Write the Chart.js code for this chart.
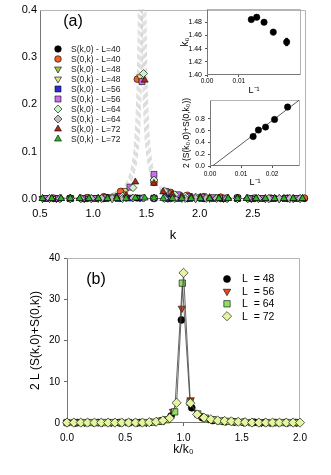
<!DOCTYPE html>
<html>
<head>
<meta charset="utf-8">
<script src="https://cdn.jsdelivr.net/npm/chart.js@4.4.0/dist/chart.umd.min.js"></script>
<style>
body { margin: 0; background: #fff; }
#wrap { position: relative; width: 331px; height: 475px; overflow: hidden; }
canvas { position: absolute; }
</style>
</head>
<body>
<div id="wrap">
  <canvas id="cA" width="331" height="245" style="left:0px;top:0px"></canvas>
  <canvas id="cTop" width="130" height="100" style="left:178px;top:0px"></canvas>
  <canvas id="cBot" width="130" height="100" style="left:180px;top:92px"></canvas>
  <canvas id="cB" width="331" height="235" style="left:0px;top:240px"></canvas>
</div>
<script>
// ---- panel (a): structure factor vs k, lattice k = 2*pi*n/L ----
var namesA = ['S(k,0) - L=40', 'S(0,k) - L=40', 'S(k,0) - L=48', 'S(0,k) - L=48', 'S(k,0) - L=56',
              'S(0,k) - L=56', 'S(k,0) - L=64', 'S(0,k) - L=64', 'S(k,0) - L=72', 'S(0,k) - L=72'];

var kL40 = [0.628,0.785,0.942,1.100,1.257,1.414,1.571,1.728,1.885,2.042,2.199,2.356,2.513,2.670,2.827,2.985];
var kL48 = [0.524,0.654,0.785,0.916,1.047,1.178,1.309,1.440,1.571,1.702,1.833,1.963,2.094,2.225,2.356,2.487,2.618,2.749,2.880];
var kL56 = [0.561,0.673,0.785,0.898,1.010,1.122,1.234,1.346,1.459,1.571,1.683,1.795,1.907,2.020,2.132,2.244,2.356,2.468,2.581,2.693,2.805,2.917];
var kL64 = [0.589,0.687,0.785,0.884,0.982,1.080,1.178,1.276,1.374,1.473,1.571,1.669,1.767,1.865,1.963,2.062,2.160,2.258,2.356,2.454,2.553,2.651,2.749,2.847,2.945];
var kL72 = [0.524,0.611,0.698,0.785,0.873,0.960,1.047,1.134,1.222,1.309,1.396,1.484,1.571,1.658,1.745,1.833,1.920,2.007,2.094,2.182,2.269,2.356,2.443,2.531,2.618,2.705,2.793,2.880,2.967];

var sk0_40 = [0.001,0.001,0.001,0.001,0.002,0.002,0.001,0.001,0.001,0.001,0.001,0.001,0.001,0.001,0.001,0.001];
var s0k_40 = [0.002,0.002,0.003,0.005,0.016,0.253,0.035,0.014,0.008,0.005,0.004,0.003,0.002,0.002,0.002,0.002];
var sk0_48 = [0.001,0.001,0.001,0.001,0.001,0.001,0.002,0.002,0.002,0.001,0.001,0.001,0.001,0.001,0.001,0.001,0.001,0.001,0.001];
var s0k_48 = [0.001,0.001,0.001,0.001,0.002,0.005,0.018,0.258,0.038,0.013,0.006,0.004,0.003,0.002,0.002,0.001,0.001,0.001,0.001];
var sk0_56 = [0.001,0.001,0.001,0.001,0.001,0.001,0.001,0.002,0.002,0.002,0.001,0.001,0.001,0.001,0.001,0.001,0.001,0.001,0.001,0.001,0.001,0.001];
var s0k_56 = [0.001,0.001,0.001,0.001,0.001,0.003,0.005,0.025,0.248,0.052,0.016,0.009,0.005,0.004,0.003,0.002,0.002,0.001,0.001,0.001,0.001,0.001];
var sk0_64 = [0.001,0.001,0.001,0.001,0.001,0.0015,0.003,0.006,0.024,0.265,0.040,0.017,0.009,0.006,0.004,0.003,0.002,0.0015,0.001,0.001,0.001,0.001,0.001,0.001,0.001];
var s0k_64 = [0.001,0.001,0.001,0.001,0.001,0.001,0.001,0.001,0.002,0.002,0.002,0.001,0.001,0.001,0.001,0.001,0.001,0.001,0.001,0.001,0.001,0.001,0.001,0.001,0.001];
var sk0_72 = [0.001,0.001,0.001,0.001,0.001,0.001,0.0015,0.002,0.004,0.008,0.036,0.251,0.033,0.015,0.009,0.006,0.004,0.0035,0.003,0.002,0.0015,0.001,0.001,0.001,0.001,0.001,0.001,0.001,0.001];
var s0k_72 = [0.001,0.001,0.001,0.001,0.001,0.001,0.001,0.001,0.001,0.001,0.002,0.002,0.002,0.001,0.001,0.001,0.001,0.001,0.001,0.001,0.001,0.001,0.001,0.001,0.001,0.001,0.001,0.001,0.001];

// dashed fit curves (peaks run off the top)
var kFit = [0.5,0.8,1.0,1.1,1.2,1.3,1.34,1.37,1.39,1.41,1.42,1.43,1.44,1.45,1.46,1.47,1.48,1.49,1.50,1.52,1.54,1.57,1.61,1.66,1.73,1.83,2.0,2.3,2.7,3.0];
var fit1 = [0.0011,0.0026,0.0052,0.0084,0.014,0.032,0.05,0.08,0.12,0.22,0.32,0.55,0.9,0.55,0.32,0.22,0.16,0.12,0.10,0.068,0.05,0.035,0.024,0.016,0.0105,0.0063,0.0034,0.0014,0.0007,0.0004];
var fit2 = [0.0011,0.0025,0.005,0.008,0.013,0.028,0.045,0.068,0.10,0.16,0.22,0.32,0.55,0.9,0.55,0.32,0.22,0.16,0.12,0.08,0.058,0.04,0.026,0.017,0.011,0.0065,0.0035,0.0014,0.0007,0.0005];
var fit3 = [0.001,0.0024,0.0048,0.0078,0.0125,0.026,0.04,0.058,0.08,0.12,0.16,0.22,0.32,0.55,0.9,0.55,0.32,0.22,0.16,0.10,0.068,0.045,0.028,0.018,0.0115,0.0068,0.0036,0.0015,0.0008,0.0005];
var fit4 = [0.001,0.0023,0.0046,0.0076,0.012,0.024,0.035,0.05,0.068,0.10,0.12,0.16,0.22,0.32,0.55,0.9,0.55,0.32,0.22,0.12,0.08,0.05,0.032,0.02,0.012,0.0072,0.0038,0.0015,0.0008,0.0005];
var fit5 = [0.001,0.0022,0.0045,0.0074,0.0115,0.022,0.032,0.045,0.058,0.08,0.10,0.12,0.16,0.22,0.32,0.55,0.9,0.55,0.32,0.16,0.10,0.058,0.035,0.022,0.013,0.0076,0.004,0.0016,0.0008,0.0005];

// insets: k0 and peak height vs 1/L
var invL = [0.0139, 0.0156, 0.0179, 0.0208, 0.0250];
var k0 = [1.4840, 1.4875, 1.4800, 1.4650, 1.4500];
var k0err = [0.003, 0.003, 0.003, 0.004, 0.0055];
var peakSum = [0.50, 0.61, 0.66, 0.79, 1.00];
var lineX = [0.0008, 0.0288];
var lineY = [0, 1.12];

// ---- panel (b): 2L(S(k,0)+S(0,k)) vs k/k0 ----
var namesB = ['L  = 48', 'L  = 56', 'L  = 64', 'L  = 72'];
var qL48 = [0.000,0.089,0.179,0.268,0.357,0.446,0.536,0.625,0.714,0.804,0.893,0.982,1.071,1.161,1.250,1.339,1.429,1.518,1.607,1.696,1.786,1.875,1.964];
var bL48 = [0.1,0.1,0.1,0.1,0.1,0.1,0.1,0.1,0.2,0.5,1.7,25.0,3.7,1.3,0.6,0.4,0.3,0.2,0.2,0.1,0.1,0.1,0.1];
var qL56 = [0.000,0.076,0.152,0.227,0.303,0.379,0.455,0.531,0.606,0.682,0.758,0.834,0.910,0.986,1.061,1.137,1.213,1.289,1.365,1.440,1.516,1.592,1.668,1.744,1.819,1.895,1.971];
var bL56 = [0.1,0.1,0.1,0.1,0.1,0.1,0.1,0.1,0.1,0.1,0.3,0.6,2.8,27.8,5.6,1.8,1.0,0.6,0.4,0.3,0.2,0.2,0.1,0.1,0.1,0.1,0.1];
var qL64 = [0.000,0.066,0.132,0.198,0.264,0.330,0.396,0.462,0.528,0.594,0.660,0.726,0.792,0.858,0.924,0.990,1.056,1.122,1.188,1.254,1.320,1.386,1.452,1.518,1.584,1.650,1.716,1.782,1.848,1.914,1.980];
var bL64 = [0.1,0.1,0.1,0.1,0.1,0.1,0.1,0.1,0.1,0.1,0.1,0.2,0.4,0.8,2.7,33.9,5.0,2.2,1.2,0.8,0.5,0.4,0.3,0.2,0.1,0.1,0.1,0.1,0.1,0.1,0.1];
var qL72 = [0.000,0.059,0.118,0.176,0.235,0.294,0.353,0.412,0.470,0.529,0.588,0.647,0.706,0.765,0.823,0.882,0.941,1.000,1.059,1.117,1.176,1.235,1.294,1.353,1.411,1.470,1.529,1.588,1.647,1.706,1.764,1.823,1.882,1.941,2.000];
var bL72 = [0.1,0.1,0.1,0.1,0.1,0.1,0.1,0.1,0.1,0.1,0.1,0.1,0.2,0.3,0.6,1.2,4.9,36.4,4.8,2.1,1.3,0.9,0.6,0.5,0.4,0.3,0.2,0.1,0.1,0.1,0.1,0.1,0.1,0.1,0.1];

// ---- styles ----
var FONT = "'Liberation Sans', Arial, Helvetica, sans-serif";
Chart.defaults.font.family = FONT;
Chart.defaults.color = '#000';
Chart.defaults.animation = false;
Chart.defaults.plugins.legend.display = false;
Chart.defaults.plugins.tooltip.enabled = false;

var stylesA = [
    {shape: 'circle', rot: 0, fill: '#000000', r: 3.3},
    {shape: 'circle', rot: 0, fill: '#f0602a', r: 3.3},
    {shape: 'triangle', rot: 180, fill: '#9ccc3a', r: 4},
    {shape: 'triangle', rot: 180, fill: '#e2e488', r: 4},
    {shape: 'rect', rot: 0, fill: '#2a2ad8', r: 4.2},
    {shape: 'rect', rot: 0, fill: '#cc6ef0', r: 4.2},
    {shape: 'rectRot', rot: 0, fill: '#c8f2c8', r: 4},
    {shape: 'rectRot', rot: 0, fill: '#c0c0c0', r: 4},
    {shape: 'triangle', rot: 0, fill: '#a82a18', r: 4},
    {shape: 'triangle', rot: 0, fill: '#28b828', r: 4}
];
var stylesB = [
    {shape: 'circle', rot: 0, fill: '#000000', r: 3.5, line: false},
    {shape: 'triangle', rot: 180, fill: '#e8481c', r: 4.3, line: false},
    {shape: 'rect', rot: 0, fill: '#8ee064', r: 4.5, line: true},
    {shape: 'rectRot', rot: 0, fill: '#e6f4a2', r: 4.6, line: true}
];

function toPoints(xs, ys) {
    var pts = [];
    for (var i = 0; i < xs.length; i++) pts.push({x: xs[i], y: ys[i]});
    return pts;
}

function drawMarker(ctx, st, x, y) {
    ctx.save();
    ctx.fillStyle = st.fill;
    ctx.strokeStyle = '#000';
    ctx.lineWidth = 0.6;
    Chart.helpers.drawPoint(ctx, {pointStyle: st.shape, rotation: st.rot, radius: st.r, borderWidth: 0.6}, x, y);
    ctx.restore();
}

// grey box round the plot area, darker on the two axes
var frame = {
    id: 'frame',
    beforeDatasetsDraw: function(chart) {
        var a = chart.chartArea, ctx = chart.ctx;
        var l = Math.round(a.left) + 0.5, r = Math.round(a.right) - 0.5;
        var t = Math.round(a.top) + 0.5, b = Math.round(a.bottom) - 0.5;
        ctx.save();
        ctx.lineWidth = 1;
        ctx.strokeStyle = '#b4b4b4';
        ctx.beginPath(); ctx.moveTo(l, t); ctx.lineTo(r, t); ctx.lineTo(r, b); ctx.stroke();
        ctx.strokeStyle = '#777';
        ctx.beginPath(); ctx.moveTo(l, t); ctx.lineTo(l, b); ctx.lineTo(r, b); ctx.stroke();
        ctx.restore();
    }
};

var legendA = {
    id: 'legendA',
    afterDatasetsDraw: function(chart) {
        var ctx = chart.ctx;
        ctx.save();
        ctx.textBaseline = 'middle';
        for (var i = 0; i < namesA.length; i++) {
            var y = 49 + i * 10;
            drawMarker(ctx, stylesA[i], 58, y);
            ctx.font = '8.5px ' + FONT;
            ctx.fillStyle = '#1a1a1a';
            ctx.fillText(namesA[i], 71, y + 0.5);
        }
        ctx.font = '16px ' + FONT;
        ctx.fillStyle = '#000';
        ctx.textAlign = 'center';
        ctx.fillText('(a)', 73, 22);
        ctx.restore();
    }
};

var legendB = {
    id: 'legendB',
    afterDatasetsDraw: function(chart) {
        var ctx = chart.ctx;
        ctx.save();
        ctx.textBaseline = 'middle';
        for (var i = 0; i < namesB.length; i++) {
            var y = 39 + i * 12.4;
            drawMarker(ctx, stylesB[i], 227, y);
            ctx.font = '10.5px ' + FONT;
            ctx.fillStyle = '#000';
            ctx.fillText(namesB[i], 242, y + 0.5);
        }
        ctx.font = '16px ' + FONT;
        ctx.textAlign = 'center';
        ctx.fillText('(b)', 96, 40);
        ctx.restore();
    }
};

var errBars = {
    id: 'errBars',
    afterDatasetsDraw: function(chart) {
        var xs = chart.scales.x, ys = chart.scales.y, ctx = chart.ctx;
        ctx.save();
        ctx.strokeStyle = '#000';
        ctx.lineWidth = 1;
        for (var i = 0; i < invL.length; i++) {
            var x = xs.getPixelForValue(invL[i]);
            var y1 = ys.getPixelForValue(k0[i] - k0err[i]);
            var y2 = ys.getPixelForValue(k0[i] + k0err[i]);
            ctx.beginPath();
            ctx.moveTo(x, y1); ctx.lineTo(x, y2);
            ctx.moveTo(x - 1.5, y1); ctx.lineTo(x + 1.5, y1);
            ctx.moveTo(x - 1.5, y2); ctx.lineTo(x + 1.5, y2);
            ctx.stroke();
        }
        ctx.restore();
    }
};

// ---- chart (a) ----
var kLists = [kL40, kL40, kL48, kL48, kL56, kL56, kL64, kL64, kL72, kL72];
var sLists = [sk0_40, s0k_40, sk0_48, s0k_48, sk0_56, s0k_56, sk0_64, s0k_64, sk0_72, s0k_72];
var dataA = [];
[fit1, fit2, fit3, fit4, fit5].forEach(function(f, i) {
    dataA.push({
        label: 'fit ' + i,
        data: toPoints(kFit, f),
        showLine: true,
        pointRadius: 0,
        borderColor: '#c9c9c9',
        borderWidth: 0.7,
        borderDash: [5, 3],
        cubicInterpolationMode: 'monotone',
        order: 20
    });
});
for (var i = 0; i < namesA.length; i++) {
    dataA.push({
        label: namesA[i],
        data: toPoints(kLists[i], sLists[i]),
        pointStyle: stylesA[i].shape,
        rotation: stylesA[i].rot,
        pointRadius: stylesA[i].r,
        backgroundColor: stylesA[i].fill,
        borderColor: '#000',
        borderWidth: 0.6,
        clip: 10,
        order: 9 - i
    });
}

new Chart(document.getElementById('cA'), {
    type: 'scatter',
    data: {datasets: dataA},
    options: {
        responsive: false,
        layout: {padding: {left: 0, top: 7, right: 25, bottom: 0}},
        scales: {
            x: {
                type: 'linear', min: 0.5, max: 3.0,
                afterFit: function(s) { s.height = 46; },
                grid: {display: false, drawTicks: false},
                border: {display: false},
                ticks: {stepSize: 0.5, autoSkip: false, maxRotation: 0, padding: 8, font: {size: 11},
                        callback: function(v) { return v > 2.99 ? '' : v.toFixed(1); }},
                title: {display: true, text: 'k', font: {size: 13}, padding: {top: 0, bottom: 2}}
            },
            y: {
                min: 0, max: 0.4,
                afterFit: function(s) { s.width = 40; },
                grid: {display: false, drawTicks: false},
                border: {display: false},
                ticks: {stepSize: 0.1, padding: 3, font: {size: 11},
                        callback: function(v) { return v.toFixed(1); }}
            }
        }
    },
    plugins: [frame, legendA]
});

// ---- inset: k0 vs 1/L ----
new Chart(document.getElementById('cTop'), {
    type: 'scatter',
    data: {datasets: [{
        data: toPoints(invL, k0),
        pointStyle: 'circle', pointRadius: 3.2,
        backgroundColor: '#000', borderColor: '#000', borderWidth: 0.5, clip: 6
    }]},
    options: {
        responsive: false,
        layout: {padding: {left: 0, top: 9, right: 7, bottom: 0}},
        scales: {
            x: {
                type: 'linear', min: 0, max: 0.0295,
                afterFit: function(s) { s.height = 25; },
                afterBuildTicks: function(s) { s.ticks = s.ticks.filter(function(t) { return t.value < 0.025; }); },
                grid: {display: true, drawOnChartArea: false, drawTicks: true, tickLength: 2, color: '#555'},
                border: {display: false},
                ticks: {stepSize: 0.01, autoSkip: false, maxRotation: 0, padding: 0, font: {size: 6.5},
                        callback: function(v) { return v.toFixed(2); }},
                title: {display: true, text: 'L\u207B\u00B9', font: {size: 9}, padding: {top: 0, bottom: 4}}
            },
            y: {
                min: 1.40, max: 1.50,
                afterFit: function(s) { s.width = 29; },
                afterBuildTicks: function(s) { s.ticks = s.ticks.filter(function(t) { return t.value < 1.495; }); },
                grid: {display: true, drawOnChartArea: false, drawTicks: true, tickLength: 2, color: '#555'},
                border: {display: false},
                ticks: {stepSize: 0.02, padding: 3, font: {size: 7},
                        callback: function(v) { return v.toFixed(2); }},
                title: {display: true, text: 'k\u2080', font: {size: 10}, padding: {top: 1, bottom: 0}}
            }
        }
    },
    plugins: [frame, errBars]
});

// ---- inset: peak height vs 1/L ----
new Chart(document.getElementById('cBot'), {
    type: 'scatter',
    data: {datasets: [
        {data: toPoints(invL, peakSum), pointStyle: 'circle', pointRadius: 3.2,
         backgroundColor: '#000', borderColor: '#000', borderWidth: 0.5, clip: 6},
        {data: toPoints(lineX, lineY), showLine: true, pointRadius: 0,
         borderColor: '#333', borderWidth: 0.8}
    ]},
    options: {
        responsive: false,
        layout: {padding: {left: 0, top: 8, right: 10, bottom: 0}},
        scales: {
            x: {
                type: 'linear', min: 0, max: 0.029,
                afterFit: function(s) { s.height = 26; },
                afterBuildTicks: function(s) { s.ticks = s.ticks.filter(function(t) { return t.value < 0.025; }); },
                grid: {display: true, drawOnChartArea: false, drawTicks: true, tickLength: 2, color: '#555'},
                border: {display: false},
                ticks: {stepSize: 0.01, autoSkip: false, maxRotation: 0, padding: 2.5, font: {size: 6.5},
                        callback: function(v) { return v.toFixed(2); }},
                title: {display: true, text: 'L\u207B\u00B9', font: {size: 9}, padding: {top: 0, bottom: 3.6}}
            },
            y: {
                min: 0, max: 1.12,
                afterFit: function(s) { s.width = 30; },
                afterBuildTicks: function(s) { s.ticks = s.ticks.filter(function(t) { return t.value < 1.05; }); },
                grid: {display: true, drawOnChartArea: false, drawTicks: true, tickLength: 2, color: '#555'},
                border: {display: false},
                ticks: {stepSize: 0.2, padding: 3, font: {size: 7},
                        callback: function(v) { return v.toFixed(1); }},
                title: {display: true, text: '2 (S(k\u2080,0)+S(0,k\u2080))', font: {size: 8.5}, padding: {top: 1.9, bottom: 0}}
            }
        }
    },
    plugins: [frame]
});

// ---- chart (b) ----
var qLists = [qL48, qL56, qL64, qL72];
var bLists = [bL48, bL56, bL64, bL72];
var dataB = [];
for (var j = 0; j < namesB.length; j++) {
    dataB.push({
        label: namesB[j],
        data: toPoints(qLists[j], bLists[j]),
        showLine: stylesB[j].line,
        borderColor: '#404040',
        borderWidth: 0.8,
        pointStyle: stylesB[j].shape,
        rotation: stylesB[j].rot,
        pointRadius: stylesB[j].r,
        pointBackgroundColor: stylesB[j].fill,
        pointBorderColor: '#000',
        pointBorderWidth: 0.6,
        clip: 10,
        order: 3 - j
    });
}

new Chart(document.getElementById('cB'), {
    type: 'scatter',
    data: {datasets: dataB},
    options: {
        responsive: false,
        layout: {padding: {left: 28, top: 18, right: 31, bottom: 17}},
        scales: {
            x: {
                type: 'linear', min: 0, max: 2,
                afterFit: function(s) { s.height = 35; },
                grid: {display: true, drawOnChartArea: false, drawTicks: true, tickLength: 3, color: '#666'},
                border: {display: false},
                ticks: {stepSize: 0.5, autoSkip: false, maxRotation: 0, padding: 6, font: {size: 10},
                        callback: function(v) { return v.toFixed(1); }},
                title: {display: true, text: 'k/k\u2080', font: {size: 12}, padding: {top: 0, bottom: 1}}
            },
            y: {
                min: 0, max: 40,
                afterFit: function(s) { s.width = 39; },
                grid: {display: true, drawOnChartArea: false, drawTicks: true, tickLength: 3, color: '#666'},
                border: {display: false},
                ticks: {stepSize: 10, padding: 4, font: {size: 10}},
                title: {display: true, text: '2 L (S(k,0)+S(0,k))', font: {size: 12}, padding: {top: 0, bottom: 0}}
            }
        }
    },
    plugins: [frame, legendB]
});
</script>
</body>
</html>
